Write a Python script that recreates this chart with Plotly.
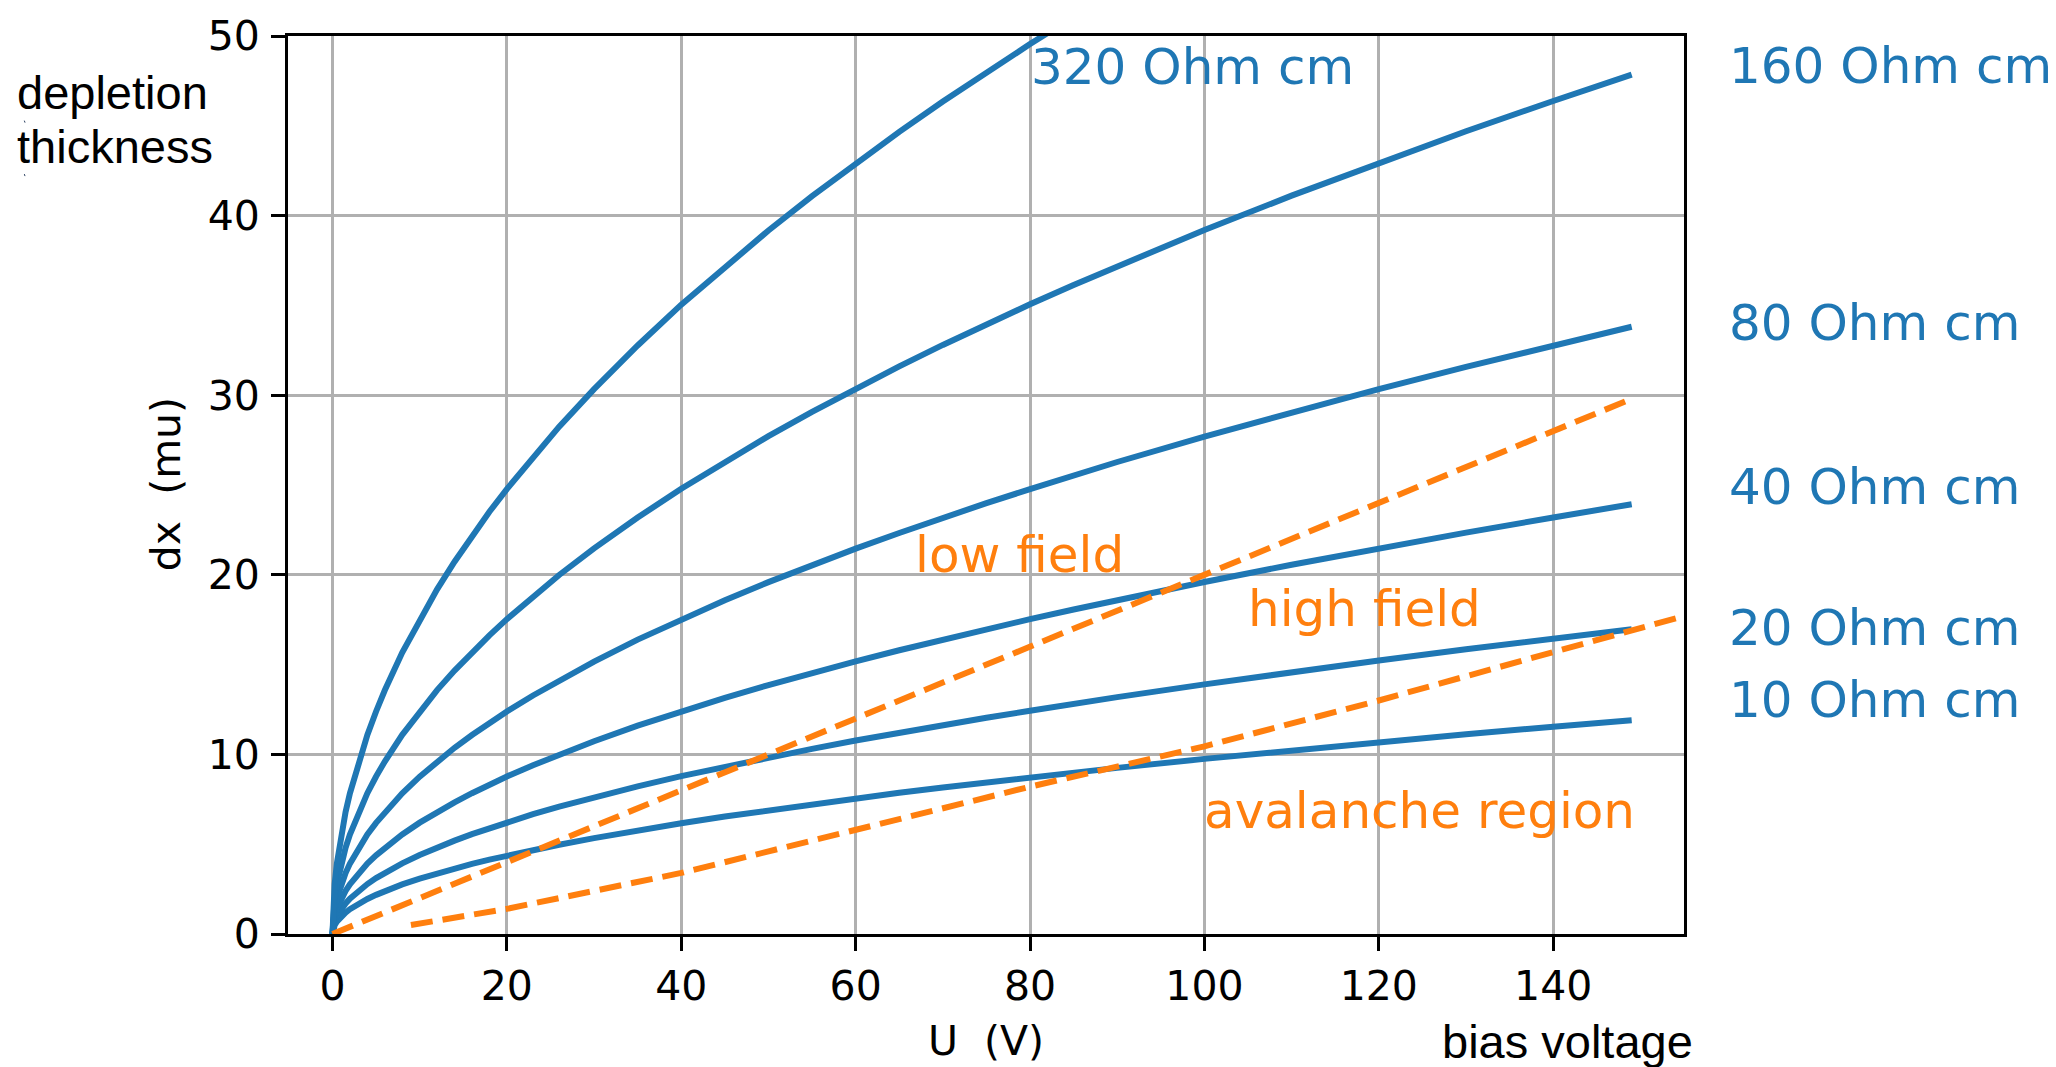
import plotly.graph_objects as go

# Bias voltage samples (V) for the depletion curves
U_DEPL = [0, 0.1, 0.25, 0.5, 1, 1.5, 2, 3, 4, 5, 6, 8, 10, 12, 14, 16, 18, 20, 23, 26,
          30, 35, 40, 45, 50, 55, 60, 65, 70, 75, 80, 85, 90, 100, 110, 120, 130, 140,
          149]

# Depletion thickness dx (mu) per substrate resistivity
dx_10 = [0, 0.31, 0.49, 0.69, 0.98, 1.19, 1.38, 1.69, 1.95, 2.18, 2.39, 2.76, 3.08,
         3.38, 3.65, 3.90, 4.14, 4.36, 4.68, 4.97, 5.34, 5.77, 6.17, 6.54, 6.89, 7.23,
         7.55, 7.86, 8.16, 8.44, 8.72, 8.99, 9.25, 9.75, 10.23, 10.68, 11.12, 11.54,
         11.90]
dx_20 = [0, 0.44, 0.70, 0.98, 1.39, 1.70, 1.97, 2.41, 2.78, 3.11, 3.40, 3.93, 4.40,
         4.82, 5.20, 5.56, 5.90, 6.22, 6.67, 7.09, 7.61, 8.22, 8.79, 9.32, 9.83, 10.31,
         10.77, 11.21, 11.63, 12.04, 12.43, 12.82, 13.19, 13.90, 14.58, 15.23, 15.85,
         16.45, 16.97]
dx_40 = [0, 0.62, 0.98, 1.39, 1.96, 2.40, 2.77, 3.39, 3.92, 4.38, 4.80, 5.54, 6.20,
         6.79, 7.33, 7.84, 8.32, 8.77, 9.40, 9.99, 10.73, 11.60, 12.40, 13.15, 13.86,
         14.54, 15.18, 15.80, 16.40, 16.97, 17.53, 18.07, 18.59, 19.60, 20.56, 21.47,
         22.35, 23.19, 23.93]
dx_80 = [0, 0.88, 1.39, 1.96, 2.77, 3.39, 3.92, 4.80, 5.54, 6.19, 6.78, 7.83, 8.76,
         9.60, 10.37, 11.08, 11.75, 12.39, 13.28, 14.12, 15.17, 16.39, 17.52, 18.58,
         19.59, 20.54, 21.46, 22.33, 23.18, 23.99, 24.77, 25.54, 26.28, 27.70, 29.05,
         30.34, 31.58, 32.78, 33.81]
dx_160 = [0, 1.24, 1.96, 2.77, 3.92, 4.80, 5.54, 6.79, 7.84, 8.77, 9.60, 11.09, 12.40,
          13.58, 14.67, 15.68, 16.63, 17.53, 18.80, 19.99, 21.47, 23.19, 24.79, 26.30,
          27.72, 29.07, 30.36, 31.60, 32.80, 33.95, 35.06, 36.14, 37.19, 39.20, 41.11,
          42.94, 44.70, 46.38, 47.85]
dx_320 = [0, 1.75, 2.77, 3.92, 5.54, 6.79, 7.83, 9.60, 11.08, 12.39, 13.57, 15.67,
          17.52, 19.19, 20.73, 22.16, 23.51, 24.77, 26.57, 28.25, 30.34, 32.77, 35.04,
          37.16, 39.17, 41.08, 42.91, 44.66, 46.35, 47.98, 49.55, 51.08]

RESISTIVITY = ["10 Ohm cm", "20 Ohm cm", "40 Ohm cm", "80 Ohm cm", "160 Ohm cm",
               "320 Ohm cm"]

# Field boundaries
U_LOW = [0, 50, 100, 149]
dx_low = [0, 10.0, 20.0, 29.8]
U_AVAL = [9, 20, 40, 60, 80, 100, 120, 140, 149, 155]
dx_aval = [0.5, 1.4, 3.4, 5.8, 8.2, 10.45, 13.0, 15.7, 16.9, 17.7]

X_TICKS = [0, 20, 40, 60, 80, 100, 120, 140]
Y_TICKS = [0, 10, 20, 30, 40, 50]

BLUE = "#1f77b4"
ORANGE = "#ff7f0e"
MPL_FONT = "DejaVu Sans"
SANS = "Liberation Sans"

W, H = 2056, 1067
ML, MR, MT, MB = 288, 372, 27, 133
PW, PH = W - ML - MR, H - MT - MB


def px(xp):
    return (xp - ML) / PW


def py(yp):
    return (H - MB - yp) / PH


fig = go.Figure()

depletion = [dx_10, dx_20, dx_40, dx_80, dx_160, dx_320]
for series in depletion:
    fig.add_trace(go.Scatter(
        x=U_DEPL[:len(series)], y=series, mode="lines",
        line=dict(color=BLUE, width=6), hoverinfo="skip", showlegend=False))

for xs, ys in [(U_LOW, dx_low), (U_AVAL, dx_aval)]:
    fig.add_trace(go.Scatter(
        x=xs, y=ys, mode="lines",
        line=dict(color=ORANGE, width=6, dash="22px,10px"),
        hoverinfo="skip", showlegend=False))

annotations = []

# resistivity labels next to the curve ends (nudged apart where crowded)
nudge = [-0.55, -1.6, -0.7, -1.45, -1.2]
for text, series, dy in zip(RESISTIVITY[:5], depletion[:5], nudge):
    annotations.append(dict(x=px(1737), y=series[-1] + dy, xref="paper", yref="y",
                            text=text, xanchor="left", yanchor="middle",
                            font=dict(family=MPL_FONT, size=50, color=BLUE)))
annotations.append(dict(x=81.0, y=46.6, xref="x", yref="y", text=RESISTIVITY[5],
                        xanchor="left", yanchor="middle",
                        font=dict(family=MPL_FONT, size=50, color=BLUE)))

# region labels
for text, x, y in [("low field", 67.7, 19.45), ("high field", 105.9, 16.4),
                   ("avalanche region", 100.85, 5.2)]:
    annotations.append(dict(x=x, y=y, xref="x", yref="y", text=text,
                            xanchor="left", yanchor="middle",
                            font=dict(family=MPL_FONT, size=50, color=ORANGE)))

# axis titles
annotations.append(dict(x=px(996), y=py(1072), xref="paper", yref="paper",
                        text="U\u00a0\u00a0(V)", xanchor="center", yanchor="middle",
                        font=dict(family=MPL_FONT, size=41, color="black")))
annotations.append(dict(x=px(176), y=py(510), xref="paper", yref="paper",
                        text="dx\u00a0\u00a0(mu)", textangle=-90,
                        xanchor="center", yanchor="middle",
                        font=dict(family=MPL_FONT, size=41, color="black")))

# descriptive labels
for text, xp, yp in [("depletion", 25, 114.5), ("thickness", 25, 168.5),
                     ("bias voltage", 1450, 1073)]:
    annotations.append(dict(x=px(xp), y=py(yp), xref="paper", yref="paper",
                            text=text, xanchor="left", yanchor="middle",
                            font=dict(family=SANS, size=47, color="black")))

axis_common = dict(
    showline=True, linecolor="black", linewidth=3, mirror=True,
    showgrid=True, gridcolor="#b0b0b0", gridwidth=3, zeroline=False,
    ticks="outside", ticklen=14, tickwidth=3, tickcolor="black",
    tickfont=dict(family=MPL_FONT, size=41, color="black"),
)

fig.update_layout(
    width=W, height=H,
    margin=dict(l=ML, r=MR, t=MT, b=MB, pad=0),
    paper_bgcolor="white", plot_bgcolor="white",
    xaxis=dict(range=[-5.1, 155], tickvals=X_TICKS, ticklabelstandoff=0,
               **axis_common),
    yaxis=dict(range=[0, 50], tickvals=Y_TICKS, ticklabelstandoff=3,
               **axis_common),
    annotations=annotations,
    showlegend=False,
)

fig.write_html("out.html")
